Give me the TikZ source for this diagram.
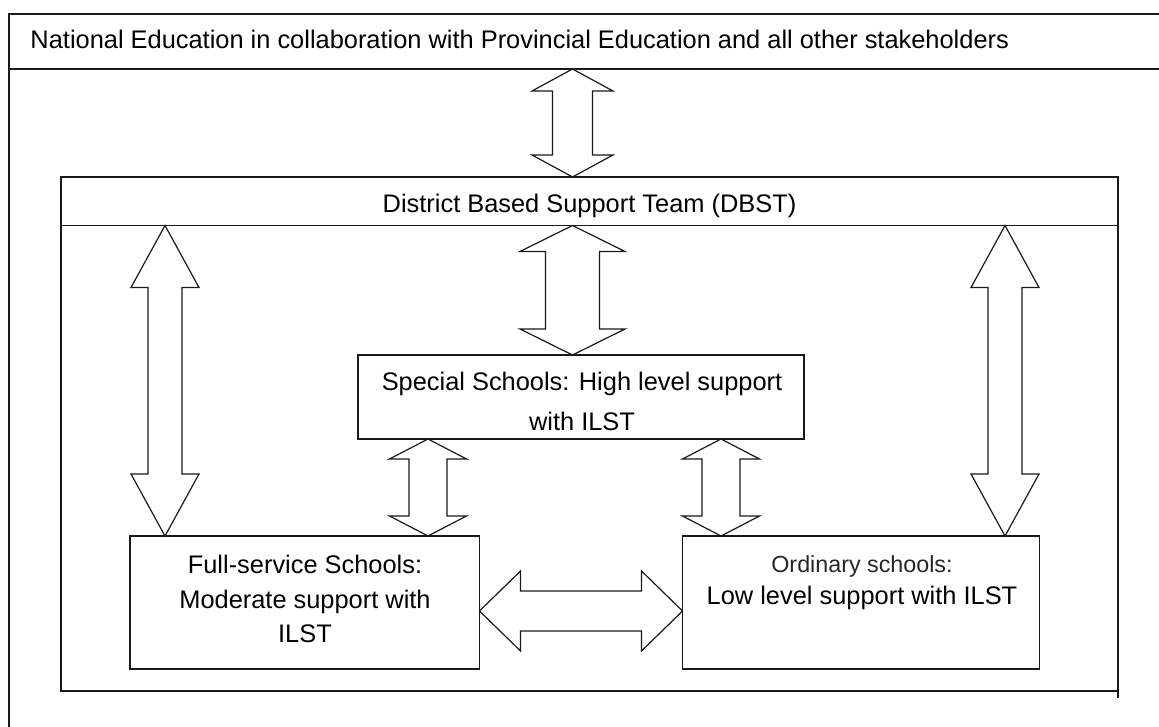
\documentclass[tikz,border=0pt]{standalone}
\usepackage{fontspec}
\setmainfont{Liberation Sans}
\usetikzlibrary{calc}
\newcommand\bigf{\fontsize{25.4}{30}\selectfont}
\newcommand\smlf{\fontsize{23.3}{28}\selectfont}
% vertical double block arrow: #1 top tip, #2 bottom tip, #3 head half width, #4 shaft half width, #5 head length
\newcommand\vdarrow[5]{\draw[blockarrow] (#1) -- ($(#1)+(#3,#5)$) -- ($(#1)+(#4,#5)$) -- ($(#2)+(#4,-#5)$) -- ($(#2)+(#3,-#5)$) -- (#2) -- ($(#2)+(-#3,-#5)$) -- ($(#2)+(-#4,-#5)$) -- ($(#1)+(-#4,#5)$) -- ($(#1)+(-#3,#5)$) -- cycle;}
% horizontal double block arrow: #1 left tip, #2 right tip
\newcommand\hdarrow[5]{\draw[blockarrow] (#1) -- ($(#1)+(#5,-#3)$) -- ($(#1)+(#5,-#4)$) -- ($(#2)+(-#5,-#4)$) -- ($(#2)+(-#5,-#3)$) -- (#2) -- ($(#2)+(-#5,#3)$) -- ($(#2)+(-#5,#4)$) -- ($(#1)+(#5,#4)$) -- ($(#1)+(#5,#3)$) -- cycle;}
\begin{document}
\begin{tikzpicture}[x=1pt,y=-1pt,
  box/.style={draw=black!90, line width=1.2pt, inner sep=0pt, outer sep=0pt, anchor=north west},
  blockarrow/.style={draw=black!90, line width=1.2pt, fill=white, line join=miter},
  txt/.style={inner sep=0pt, outer sep=0pt, font=\bigf, text=black}]
\useasboundingbox (0,0) rectangle (1159,727);
\clip (0,0) rectangle (1159,727);
% outer frame and header band
\node[box, minimum width=1200pt, minimum height=780pt] (outer) at (9,14) {};
\node[box, minimum width=1200pt, minimum height=55pt] (nat) at (9,14) {};
\node[txt, anchor=base west] (natt) at (30.5,49) {National Education in collaboration with Provincial Education and all other stakeholders};
% DBST
\node[box, minimum width=1057pt, minimum height=514pt] (dbst) at (61,177) {};
\node[box, minimum width=1057pt, minimum height=48.5pt] (dbsth) at (61,177) {};
\node[txt, anchor=base] (dbstt) at (589.5,213) {District Based Support Team (DBST)};
\draw[draw=black!90, line width=1.2pt] (dbst.south east) -- ++(0,7);
% Special schools
\node[box, minimum width=446pt, minimum height=84pt] (spec) at (358,355) {};
\node[txt, anchor=base] (spec1) at (582,390) {Special Schools: High level support};
\node[txt, anchor=base] (spec2) at (582,430) {with ILST};
% Full-service schools
\node[box, minimum width=349.5pt, minimum height=133pt] (fs) at (130,536) {};
\node[txt, anchor=base] (fs1) at (305,573) {Full-service Schools:};
\node[txt, anchor=base] (fs2) at (305,608) {Moderate support with};
\node[txt, anchor=base] (fs3) at (305,642) {ILST};
% Ordinary schools
\node[box, minimum width=357pt, minimum height=133pt] (ord) at (682.5,536) {};
\node[txt, anchor=base, font=\smlf, text=black!85] (ord1) at (862,572) {Ordinary schools:};
\node[txt, anchor=base] (ord2) at (862,604) {Low level support with ILST};
% arrow columns
\coordinate (cx) at (572.5,0);
\coordinate (lx) at (165,0);
\coordinate (rx) at (1005,0);
\coordinate (slx) at (428,0);
\coordinate (srx) at (721,0);
\coordinate (hy) at (0,611);
\coordinate (a1t) at (cx |- nat.south);
\coordinate (a1b) at (cx |- dbst.north);
\coordinate (a2t) at (cx |- dbsth.south);
\coordinate (a2b) at (cx |- spec.north);
\coordinate (a3t) at (lx |- dbsth.south);
\coordinate (a3b) at (lx |- fs.north);
\coordinate (a4t) at (rx |- dbsth.south);
\coordinate (a4b) at (rx |- ord.north);
\coordinate (a5t) at (slx |- spec.south);
\coordinate (a5b) at (slx |- fs.north);
\coordinate (a6t) at (srx |- spec.south);
\coordinate (a6b) at (srx |- ord.north);
\coordinate (h1) at (fs.east |- hy);
\coordinate (h2) at (ord.west |- hy);
\vdarrow{a1t}{a1b}{40.5}{20}{22}
\vdarrow{a2t}{a2b}{52.5}{27}{26}
\vdarrow{a3t}{a3b}{34}{17}{62}
\vdarrow{a4t}{a4b}{34}{17}{62}
\vdarrow{a5t}{a5b}{38.5}{19}{20}
\vdarrow{a6t}{a6b}{38.5}{19}{20}
\hdarrow{h1}{h2}{40}{20}{41}
\end{tikzpicture}
\end{document}
